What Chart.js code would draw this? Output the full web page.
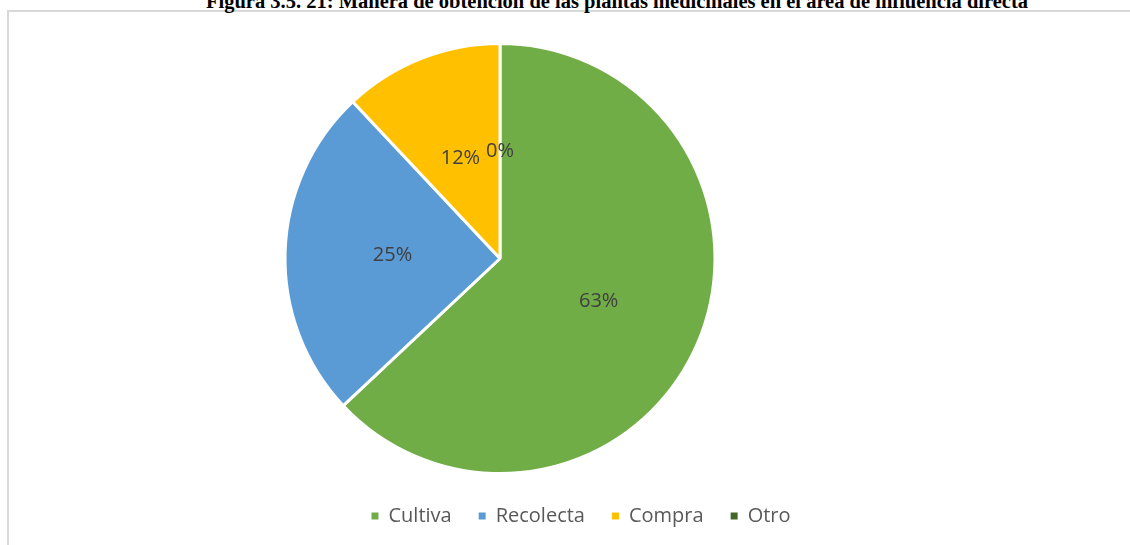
<!DOCTYPE html>
<html>
<head>
<meta charset="utf-8">
<script src="https://cdn.jsdelivr.net/npm/chart.js@4"></script>
<style>
  html, body { margin:0; padding:0; width:1130px; height:545px; overflow:hidden; background:#fff; }
  #frame { position:absolute; left:7px; top:10px; width:1200px; height:600px;
           border-left:2px solid #d9d9d9; border-top:2px solid #d9d9d9; }
  #title { position:absolute; left:0; width:1234px; top:-9px; text-align:center;
           font-family:"Liberation Serif","Times New Roman",serif; font-weight:bold;
           font-size:20.5px; line-height:20px; color:#000; white-space:nowrap; }
  #wrap { position:absolute; left:32px; top:0; width:1098px; height:545px; }
</style>
</head>
<body>
<div id="frame"></div>
<div id="title">Figura 3.5. 21: Manera de obtención de las plantas medicinales en el área de influencia directa</div>
<div id="wrap"><canvas id="c"></canvas></div>
<script>
const categories = ["Cultiva", "Recolecta", "Compra", "Otro"];
const values = [63, 25, 12, 0];
const labelsText = ["63%", "25%", "12%", "0%"];
const colors = ["#70AD47", "#5B9BD5", "#FFC000", "#43682B"];

const sliceLabels = {
  id: 'sliceLabels',
  afterDatasetsDraw(chart) {
    const ctx = chart.ctx;
    const meta = chart.getDatasetMeta(0);
    ctx.save();
    ctx.font = '20px "Open Sans", sans-serif';
    ctx.fillStyle = '#404040';
    ctx.textAlign = 'center';
    ctx.textBaseline = 'middle';
    meta.data.forEach((arc, i) => {
      const p = arc.tooltipPosition();
      ctx.fillText(labelsText[i], p.x, p.y);
    });
    ctx.restore();
  }
};

// center the legend on the whole canvas rather than on the (off-centre) plot area
const legendShift = {
  id: 'legendShift',
  afterLayout(chart) {
    const lg = chart.legend;
    if (!lg) return;
    const w = lg.right - lg.left;
    lg.left = (chart.width - w) / 2;
    lg.right = lg.left + w;
  }
};

new Chart(document.getElementById('c'), {
  type: 'pie',
  data: {
    labels: categories,
    datasets: [{
      data: values,
      backgroundColor: colors,
      borderColor: '#ffffff',
      borderWidth: 3,
      hoverOffset: 0,
      radius: 215
    }]
  },
  options: {
    responsive: true,
    maintainAspectRatio: false,
    animation: false,
    layout: { padding: { left: 0, right: 162, top: 38, bottom: 9 } },
    plugins: {
      tooltip: { enabled: false },
      title: { display: false },
      legend: {
        position: 'bottom',
        labels: {
          boxWidth: 7,
          boxHeight: 7,
          padding: 27,
          color: '#595959',
          font: { family: '"Open Sans", sans-serif', size: 20 },
          generateLabels(chart) {
            const items = Chart.overrides.doughnut.plugins.legend.labels.generateLabels(chart);
            items.forEach(it => { it.lineWidth = 0; it.strokeStyle = 'rgba(0,0,0,0)'; });
            return items;
          }
        }
      }
    }
  },
  plugins: [sliceLabels, legendShift]
});
</script>
</body>
</html>
